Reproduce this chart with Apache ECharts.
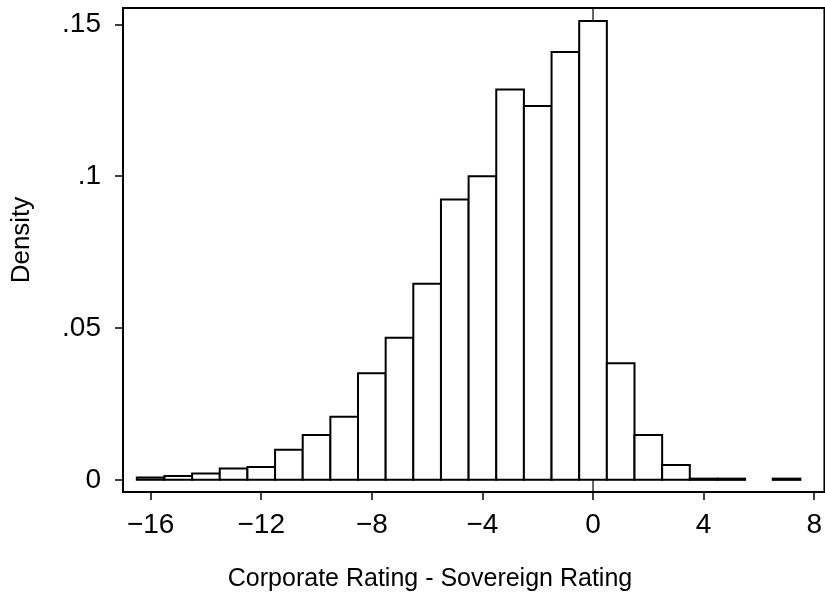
<!DOCTYPE html>
<html>
<head>
<meta charset="utf-8">
<script src="https://cdn.jsdelivr.net/npm/echarts@6/dist/echarts.min.js"></script>
<style>html,body{margin:0;padding:0;background:#fff}#c{width:825px;height:602px}</style>
</head>
<body>
<div id="c"></div>
<script>
// Bin centers (rating difference) and histogram densities
var binCenters = [-16, -15, -14, -13, -12, -11, -10, -9, -8, -7, -6, -5, -4, -3, -2, -1, 0, 1, 2, 3, 4, 5, 7];
var densities  = [0.0008, 0.0013, 0.0021, 0.0037, 0.0042, 0.0099, 0.0148, 0.0208, 0.0351, 0.0468, 0.0646, 0.0923, 0.1000, 0.1286, 0.1231, 0.1409, 0.1511, 0.0384, 0.0148, 0.0049, 0.0004, 0.0004, 0.0004];
var xTicks = [-16, -12, -8, -4, 0, 4, 8];
var yTicks = [0, 0.05, 0.1, 0.15];
var xTitle = 'Corporate Rating - Sovereign Rating';
var yTitle = 'Density';
var refLineX = 0;

var FONT = 'Liberation Sans, Arial, sans-serif';
var chart = echarts.init(document.getElementById('c'), null, {renderer: 'canvas'});
var histData = binCenters.map(function (c, i) { return [c, densities[i]]; });
var yMin = -0.004, yMax = 0.1554;

chart.setOption({
  animation: false,
  backgroundColor: '#fff',
  grid: {left: 123, right: -1, top: 8, bottom: 110, show: true, borderColor: '#000', borderWidth: 2},
  xAxis: {
    type: 'value', min: -17, max: 8.37,
    splitLine: {show: false},
    axisLine: {show: true, onZero: false, lineStyle: {color: '#000', width: 2}},
    axisTick: {show: true, customValues: xTicks, length: 8, lineStyle: {color: '#000', width: 1.5}},
    axisLabel: {customValues: xTicks, color: '#000', fontFamily: FONT, fontSize: 28, margin: 19,
      formatter: function (v) { return v < 0 ? '\u2212' + Math.abs(v) : String(v); }}
  },
  yAxis: {
    type: 'value', min: yMin, max: yMax,
    splitLine: {show: false},
    axisLine: {show: true, onZero: false, lineStyle: {color: '#000', width: 2}},
    axisTick: {show: true, customValues: yTicks, length: 8, lineStyle: {color: '#000', width: 1.5}},
    axisLabel: {customValues: yTicks, color: '#000', fontFamily: FONT, fontSize: 28, margin: 22,
      formatter: function (v) { return v === 0 ? '0' : String(v).replace(/^0/, ''); }}
  },
  graphic: [
    {type: 'text', x: 430, y: 579, style: {text: xTitle, fill: '#000', font: '25px ' + FONT, textAlign: 'center', textVerticalAlign: 'middle'}},
    {type: 'text', x: 22, y: 240, rotation: Math.PI / 2, style: {text: yTitle, fill: '#000', font: '26px ' + FONT, textAlign: 'center', textVerticalAlign: 'middle'}}
  ],
  series: [
    {
      type: 'line', z: 1, silent: true, showSymbol: false,
      data: [[refLineX, yMin], [refLineX, yMax]],
      lineStyle: {color: '#000', width: 1.2}
    },
    {
      type: 'custom', z: 2, silent: true,
      data: histData,
      renderItem: function (params, api) {
        var x = api.value(0), y = api.value(1);
        var p0 = api.coord([x - 0.5, y]);
        var p1 = api.coord([x + 0.5, 0]);
        return {
          type: 'rect',
          shape: {x: p0[0], y: p0[1], width: p1[0] - p0[0], height: p1[1] - p0[1]},
          style: {fill: '#fff', stroke: '#000', lineWidth: 2}
        };
      }
    }
  ]
});
</script>
</body>
</html>
